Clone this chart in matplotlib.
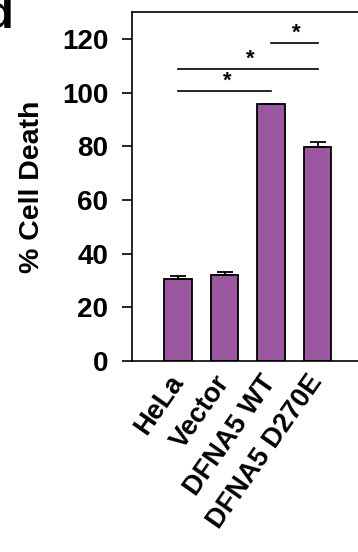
import matplotlib.pyplot as plt

plt.rcParams['font.family'] = ['Liberation Sans', 'DejaVu Sans']
plt.rcParams['font.weight'] = 'bold'

# cell death per condition
groups = ["HeLa", "Vector", "DFNA5 WT", "DFNA5 D270E"]
death = [30.5, 32.1, 95.9, 79.8]
err = [1.0, 1.1, 0.0, 1.8]

# significance brackets: (from, to, height)
brackets = [(0, 2, 100.7), (0, 3, 108.8), (2, 3, 118.4)]

bar_color = "#9B58A0"

fig = plt.figure(figsize=(3.58, 5.52), dpi=100)
ax = fig.add_axes([132 / 358, 191 / 552, 232 / 358, 349 / 552])

x = list(range(len(groups)))
ax.bar(x, death, width=0.59, color=bar_color, edgecolor="black", linewidth=1.3,
       yerr=[[0] * len(err), err], capsize=5.5,
       error_kw=dict(elinewidth=1.3, capthick=1.3, ecolor="black"), zorder=2)

for i, j, h in brackets:
    ax.plot([x[i], x[j]], [h, h], color="black", lw=1.2, clip_on=False)
    ax.text((x[i] + x[j]) / 2 + 0.05, h + 3.6, "*", ha="center", va="center",
            fontsize=16, fontweight="bold")

ax.set_xlim(-0.99, 4.0)
ax.set_ylim(0, 130)
ax.set_yticks(range(0, 121, 20))
ax.set_xticks(x)
ax.set_xticklabels(groups, rotation=55, ha="right", va="center",
                   rotation_mode="anchor", fontsize=19.5, fontweight="bold")
ax.tick_params(axis="x", length=0, pad=12)
ax.tick_params(axis="y", direction="out", length=7, width=1.2, labelsize=20, pad=10)
for lab in ax.get_yticklabels():
    lab.set_fontweight("bold")
ax.set_ylabel("% Cell Death", fontsize=20.5, fontweight="bold", labelpad=12)

ax.spines["right"].set_visible(False)
for s in ["left", "top", "bottom"]:
    ax.spines[s].set_linewidth(1.2)

fig.text(13 / 358, 1 - 28 / 552, "d", ha="right", va="baseline",
         fontsize=34, fontweight="bold")

fig.savefig("out.png", dpi=100)
